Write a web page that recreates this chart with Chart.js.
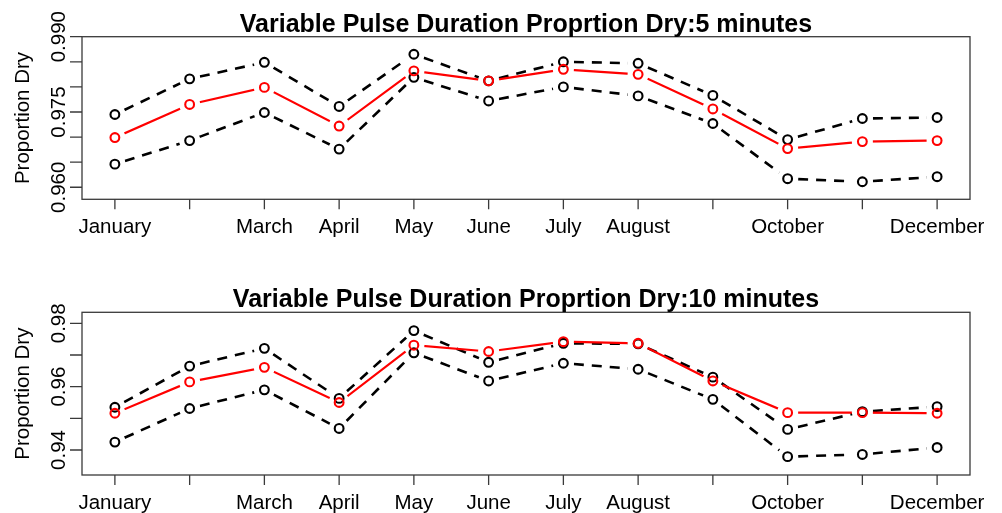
<!DOCTYPE html>
<html><head><meta charset="utf-8">
<script src="https://cdn.jsdelivr.net/npm/chart.js@4/dist/chart.umd.min.js"></script>
<style>
html,body{margin:0;padding:0;background:#fff;overflow:hidden}
#w{position:relative;width:1002px;height:513px;background:#fff}
canvas{position:absolute;left:0}
#c1{top:0}
#c2{top:256px}
</style></head><body>
<div id="w"><canvas id="c1" width="1002" height="256"></canvas><canvas id="c2" width="1002" height="257"></canvas></div>
<script>
// ---- data ----
const months = [1,2,3,4,5,6,7,8,9,10,11,12];
const monthLabels = ["January","","March","April","May","June","July","August","","October","","December"];

const title5 = "Variable Pulse Duration Proprtion Dry:5 minutes";
const upper5 = [0.9745,0.9816,0.9849,0.9761,0.9865,0.9812,0.9850,0.9847,0.9783,0.9695,0.9737,0.9739];
const mean5  = [0.9699,0.9765,0.9799,0.9722,0.9832,0.9812,0.9835,0.9825,0.9756,0.9677,0.9691,0.9693];
const lower5 = [0.9646,0.9693,0.9749,0.9676,0.9819,0.9772,0.9800,0.9782,0.9727,0.9617,0.9611,0.9621];
const yTicks5 = [0.960,0.965,0.970,0.975,0.980,0.985,0.990];
const yTickLabels5 = ["0.960","","","0.975","","","0.990"];

const title10 = "Variable Pulse Duration Proprtion Dry:10 minutes";
const upper10 = [0.9535,0.9665,0.9721,0.9563,0.9777,0.9677,0.9737,0.9735,0.9630,0.9465,0.9521,0.9537];
const mean10  = [0.9516,0.9615,0.9661,0.9550,0.9731,0.9711,0.9742,0.9737,0.9618,0.9518,0.9518,0.9516];
const lower10 = [0.9425,0.9531,0.9590,0.9468,0.9707,0.9618,0.9674,0.9655,0.9560,0.9379,0.9386,0.9408];
const yTicks10 = [0.94,0.95,0.96,0.97,0.98];
const yTickLabels10 = ["0.94","","0.96","","0.98"];

const yAxisTitle = "Proportion Dry";

// ---- styling ----
const FONT = '"Liberation Sans", Arial, sans-serif';
const GAP = 10.5;
const DASH = [10, 8];
const FRAME = '#3a3a3a';

// line controller that leaves a gap around its own points (like R type="b")
class GapLineController extends Chart.LineController {
  draw(){
    const chart = this.chart, ctx = chart.ctx;
    const pts = this._cachedMeta.data || [];
    ctx.save();
    ctx.beginPath();
    const h = 4;
    for (let i = 0; i < pts.length - 1; i++) {
      const p = pts[i], q = pts[i+1];
      const dx = q.x - p.x, dy = q.y - p.y, len = Math.hypot(dx, dy);
      if (len <= 2*GAP) continue;
      const ux = dx/len, uy = dy/len, nx = -uy, ny = ux;
      const sx = p.x + ux*GAP, sy = p.y + uy*GAP, ex = q.x - ux*GAP, ey = q.y - uy*GAP;
      ctx.moveTo(sx + nx*h, sy + ny*h);
      ctx.lineTo(ex + nx*h, ey + ny*h);
      ctx.lineTo(ex - nx*h, ey - ny*h);
      ctx.lineTo(sx - nx*h, sy - ny*h);
      ctx.closePath();
    }
    ctx.clip();
    super.draw();
    ctx.restore();
  }
}
GapLineController.id = 'gapLine';
GapLineController.defaults = Chart.LineController.defaults;
Chart.register(GapLineController);

function pts(vals){ return vals.map((v,i)=>({x:months[i], y:v})); }

const period = DASH[0] + DASH[1];
const baseOffset = ((-GAP % period) + period) % period;

function lineSet(vals, color, dashed){
  const ds = {type:'gapLine', data:pts(vals), borderColor:color, borderWidth: dashed?2.6:2.2,
    borderDash: dashed?DASH:[], borderCapStyle:'butt', pointRadius:0, pointHoverRadius:0,
    tension:0, fill:false};
  if (dashed) {
    // restart the dash pattern on every segment, just after the gap
    ds.segment = { borderDashOffset: c => baseOffset + (c.p0DataIndex % 2) * period };
  }
  return ds;
}
function pointSet(vals, color){
  return {type:'line', data:pts(vals), showLine:false, pointRadius:4.4, pointHoverRadius:4.4,
    pointBorderWidth:2.1, pointBorderColor:color, pointBackgroundColor:'rgba(0,0,0,0)', borderColor:color};
}

function rPlugin(cfg){
  return {
    id:'rframe',
    afterDraw(chart){
      const ctx = chart.ctx, a = chart.chartArea;
      const xs = chart.scales.x, ys = chart.scales.y;
      ctx.save();
      ctx.strokeStyle = FRAME; ctx.lineWidth = 1.3;
      ctx.strokeRect(a.left, a.top, a.right-a.left, a.bottom-a.top);
      ctx.beginPath();
      months.forEach(m=>{ const x = xs.getPixelForValue(m); ctx.moveTo(x,a.bottom); ctx.lineTo(x,a.bottom+10); });
      cfg.yTicks.forEach(v=>{ const y = ys.getPixelForValue(v); ctx.moveTo(a.left,y); ctx.lineTo(a.left-12,y); });
      ctx.stroke();
      ctx.fillStyle = '#000';
      ctx.font = '20.5px ' + FONT;
      ctx.textAlign = 'center'; ctx.textBaseline = 'alphabetic';
      months.forEach((m,i)=>{ if(monthLabels[i]) ctx.fillText(monthLabels[i], xs.getPixelForValue(m), a.bottom+34); });
      cfg.yTicks.forEach((v,i)=>{
        if(!cfg.yLabels[i]) return;
        ctx.save(); ctx.translate(65, ys.getPixelForValue(v)); ctx.rotate(-Math.PI/2);
        ctx.fillText(cfg.yLabels[i],0,0); ctx.restore();
      });
      ctx.save(); ctx.translate(28.5,(a.top+a.bottom)/2); ctx.rotate(-Math.PI/2);
      ctx.fillText(yAxisTitle,0,0); ctx.restore();
      ctx.font = 'bold 25px ' + FONT;
      ctx.fillText(cfg.title, (a.left+a.right)/2, a.top-5);
      ctx.restore();
    }
  };
}

function makeChart(id, upper, mean, lower, ymin, ymax, pad, cfg){
  return new Chart(document.getElementById(id), {
    type:'line',
    data:{datasets:[
      pointSet(mean,'#ff0000'), pointSet(upper,'#000'), pointSet(lower,'#000'),
      lineSet(mean,'#ff0000',false), lineSet(upper,'#000',true), lineSet(lower,'#000',true)
    ]},
    options:{
      responsive:false, animation:false, devicePixelRatio:1,
      layout:{padding:pad},
      plugins:{legend:{display:false}, tooltip:{enabled:false}, title:{display:false}},
      scales:{
        x:{type:'linear', min:0.56, max:12.44, display:false},
        y:{type:'linear', min:ymin, max:ymax, display:false}
      }
    },
    plugins:[rPlugin(cfg)]
  });
}

makeChart('c1', upper5, mean5, lower5, 0.9576, 0.9900,
  {left:82, right:32, top:36.7, bottom:56.7},
  {title:title5, yTicks:yTicks5, yLabels:yTickLabels5});
makeChart('c2', upper10, mean10, lower10, 0.93211, 0.98348,
  {left:82, right:32, top:56.3, bottom:38},
  {title:title10, yTicks:yTicks10, yLabels:yTickLabels10});
</script>
</body></html>
